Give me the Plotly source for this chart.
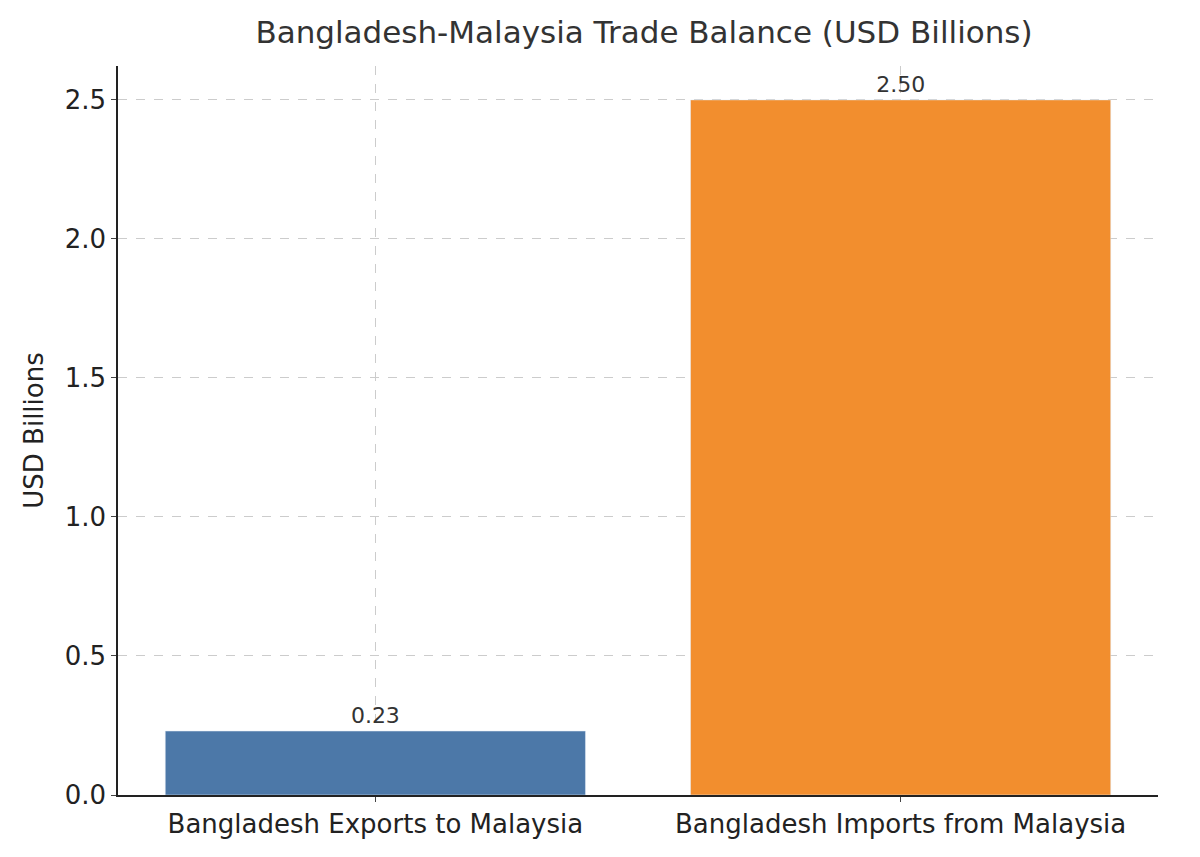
import plotly.graph_objects as go

categories = ["Bangladesh Exports to Malaysia", "Bangladesh Imports from Malaysia"]
values = [0.23, 2.50]
colors = ["#4c78a8", "#f28e2e"]

fig = go.Figure(go.Bar(
    x=[0, 1], y=values, marker_color=colors, width=0.8,
    text=[f"{v:.2f}" for v in values], textposition="outside",
    textfont=dict(size=22, color="#333333"), cliponaxis=False,
))
fig.update_layout(
    width=1200, height=857, plot_bgcolor="white", paper_bgcolor="white",
    font=dict(family="DejaVu Sans", color="#222222"),
    margin=dict(l=110, r=50, t=58, b=70),
    title=dict(text="Bangladesh-Malaysia Trade Balance (USD Billions)", x=0.53, xanchor="center",
               y=0.985, yanchor="top", font=dict(size=31, color="#333333")),
    showlegend=False,
)
fig.update_xaxes(range=[-0.49, 1.49], tickvals=[0, 1], ticktext=categories,
                 tickfont=dict(size=26), showline=True, linecolor="#222", linewidth=1.5,
                 ticks="outside", ticklen=5, showgrid=True, gridcolor="#cccccc", griddash="dash",
                 zeroline=False)
fig.update_yaxes(range=[0, 2.622], tickvals=[0, 0.5, 1, 1.5, 2, 2.5],
                 ticktext=["0.0", "0.5", "1.0", "1.5", "2.0", "2.5"],
                 tickfont=dict(size=26), showline=True, linecolor="#222", linewidth=1.5,
                 ticks="outside", ticklen=5, showgrid=True, gridcolor="#cccccc", griddash="dash",
                 zeroline=False, title=dict(text="USD Billions", font=dict(size=26), standoff=14))
fig.write_html("out.html")
